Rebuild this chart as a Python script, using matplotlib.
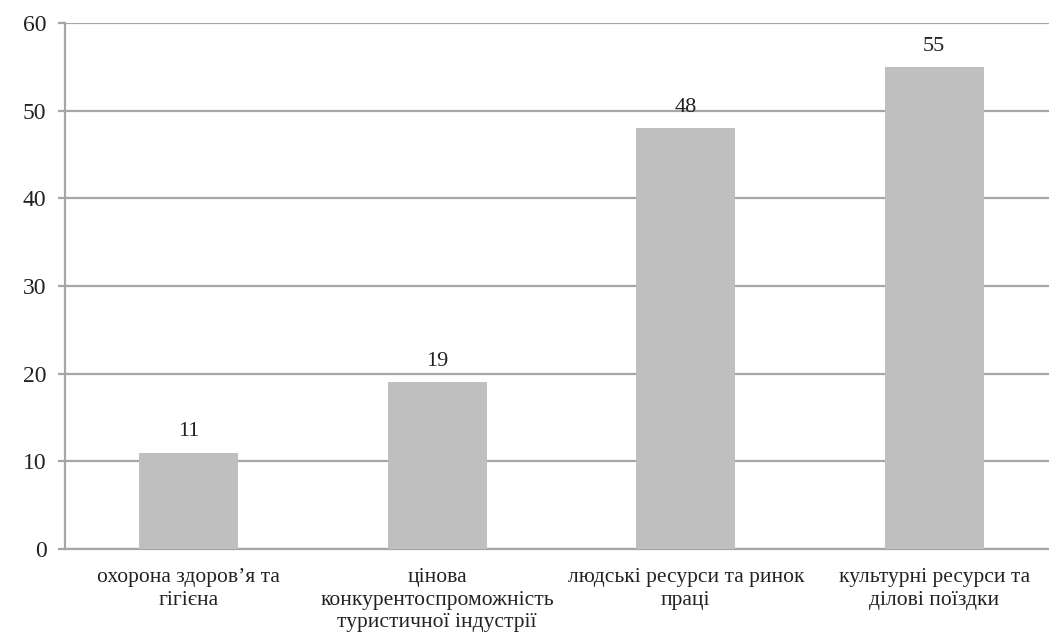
import matplotlib.pyplot as plt

categories = ['охорона здоров’я та\nгігієна',
              'цінова\nконкурентоспроможність\nтуристичної індустрії',
              'людські ресурси та ринок\nпраці',
              'культурні ресурси та\nділові поїздки']
values = [11, 19, 48, 55]
yticks = [0, 10, 20, 30, 40, 50, 60]

plt.rcParams['font.family'] = ['Liberation Serif', 'DejaVu Serif']

W, H = 1049, 638
fig = plt.figure(figsize=(W / 100, H / 100), dpi=100)
# plot area in pixels: left spine x=64.5, y=0 at 549, y=60 at 23
ax = fig.add_axes([64.5 / W, (H - 549) / H, (W - 64.5) / W, 526 / H])

grid_c = '#a6a6a6'
x = list(range(len(values)))
ax.bar(x, values, width=0.4, color='#bfbfbf', zorder=3)
for xi, v in zip(x, values):
    ax.annotate(str(v), (xi, v), xytext=(0, 8), textcoords='offset points',
                ha='center', va='bottom', fontsize=16, color='#222222')

ax.set_ylim(0, 60)
ax.set_xlim(-0.5, -0.5 + (W - 64.5) / 248.5)
ax.set_yticks(yticks)
ax.yaxis.grid(True, color=grid_c, linewidth=1.6, zorder=0)
ax.set_axisbelow(True)

ax.set_xticks(x)
ax.set_xticklabels(categories, fontsize=15.5, color='#222222', linespacing=1.22)
ax.tick_params(axis='x', length=0, pad=14)
ax.tick_params(axis='y', length=5, width=1.6, color=grid_c, pad=8,
               labelsize=17, labelcolor='#222222')

for s in ['top', 'right']:
    ax.spines[s].set_visible(False)
for s in ['left', 'bottom']:
    ax.spines[s].set_color(grid_c)
    ax.spines[s].set_linewidth(1.6)

fig.savefig('out.png', dpi=100)
